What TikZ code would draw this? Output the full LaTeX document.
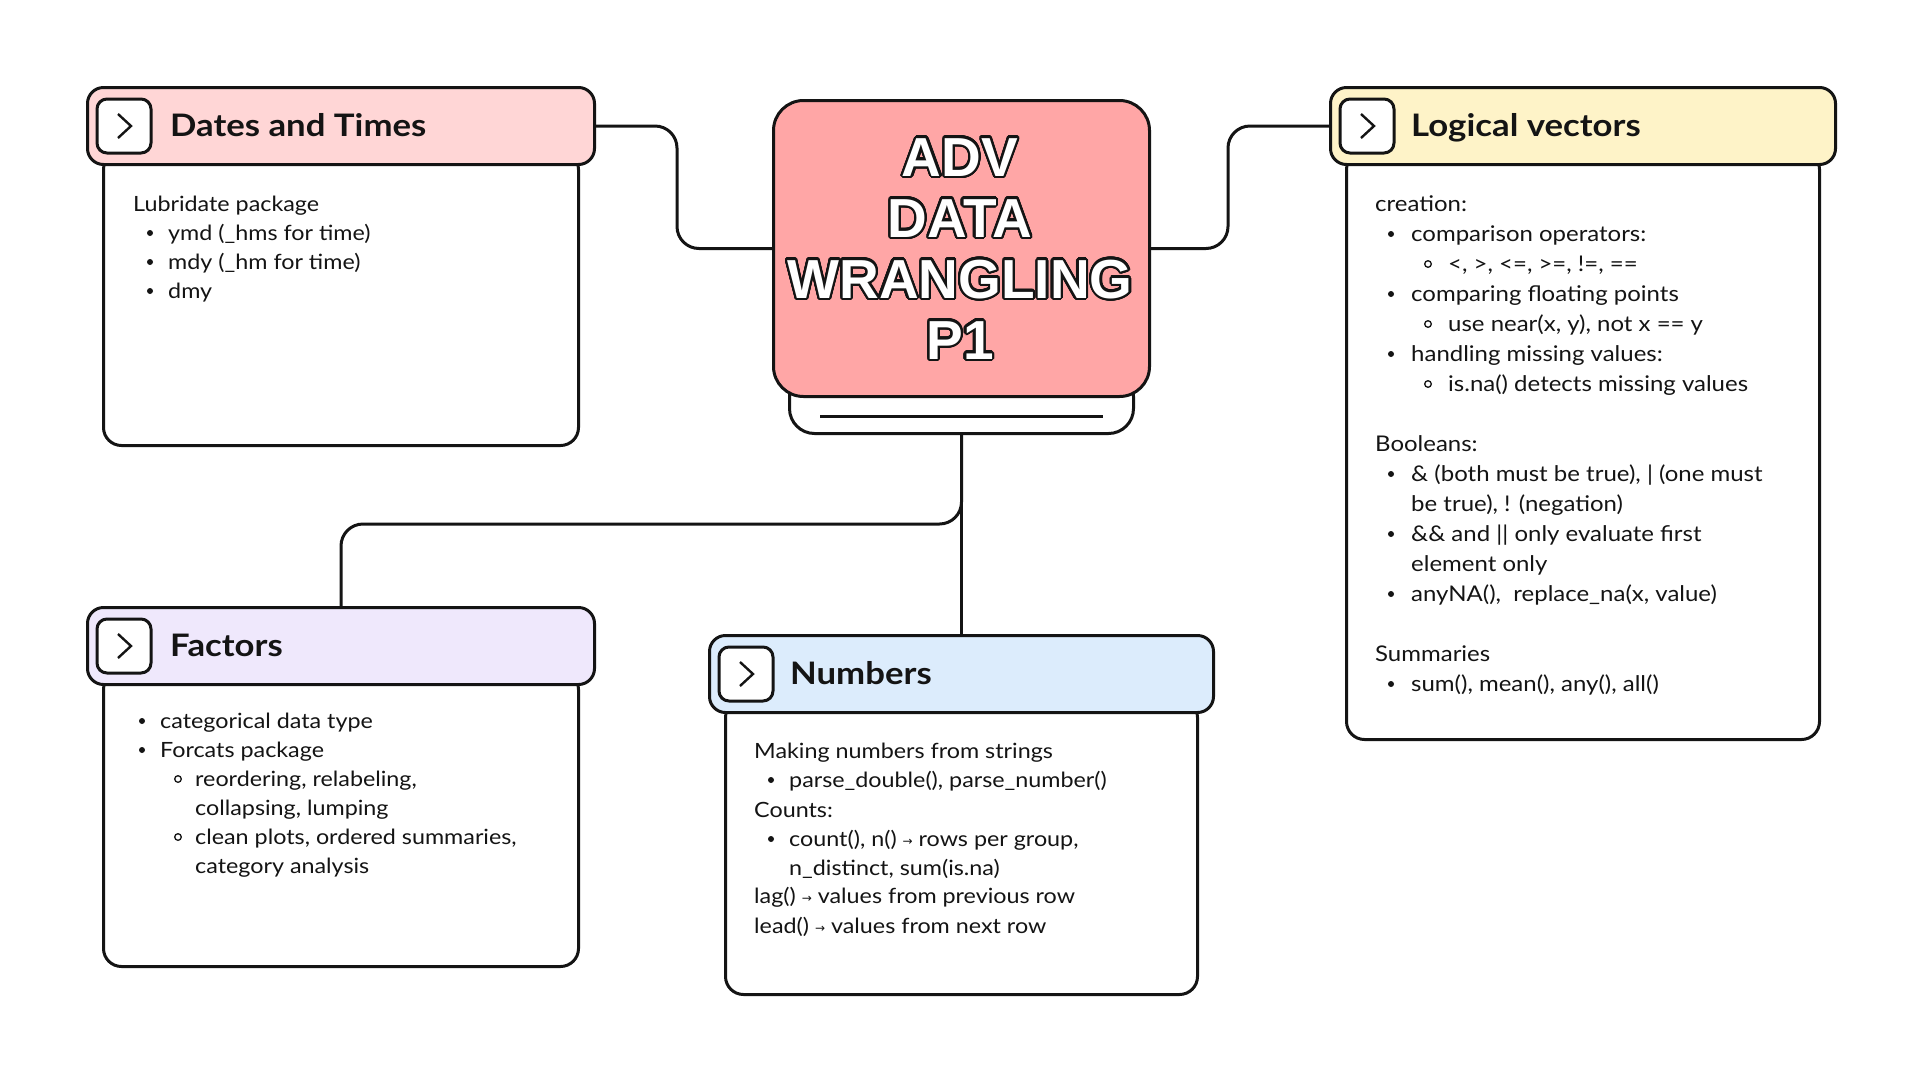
\documentclass[tikz,border=0pt]{standalone}
\usepackage{fontspec}
\setmainfont{Lato}[FakeStretch=1.11]
\newfontfamily\ttlfont{Lato}[FakeStretch=1.12]
\newfontfamily\heavyf{Liberation Sans}
\newfontfamily\symf{DejaVu Sans}
\usepackage{contour}
\contourlength{2.2pt}
\contournumber{32}
\usetikzlibrary{calc}
\definecolor{ink}{RGB}{20,20,20}
\definecolor{corepink}{RGB}{255,166,166}
\definecolor{hpink}{RGB}{255,214,214}
\definecolor{hyellow}{RGB}{254,243,200}
\definecolor{hlav}{RGB}{239,232,252}
\definecolor{hblue}{RGB}{220,236,252}
\newcommand\smallarrow{{\symf\fontsize{12}{12}\selectfont\raisebox{1pt}{→}}}
\begin{document}
\begin{tikzpicture}[x=1pt,y=-1pt,
  hdr/.style={draw=ink, line width=3pt, rounded corners=16pt, minimum height=77pt, inner sep=0pt, anchor=north west},
  bodybox/.style={draw=ink, line width=3pt, fill=white, rounded corners=18pt, inner sep=0pt, anchor=north west},
  icon/.style={draw=ink, line width=3pt, fill=white, rounded corners=10pt, minimum width=54pt, minimum height=54pt, inner sep=0pt},
  chev/.style={draw=ink, line width=2.4pt, line join=miter},
  ttl/.style={anchor=base west, inner sep=0pt, font=\ttlfont\fontsize{31}{31}\selectfont\bfseries, text=ink},
  txt/.style={anchor=base west, inner sep=0pt, font=\fontsize{21}{21}\selectfont, text=ink},
  ltxt/.style={txt, font=\fontsize{21.6}{21.6}\selectfont},
  ctr/.style={anchor=base, inner sep=0pt, font=\heavyf\bfseries\fontsize{55}{55}\selectfont, text=white},
  conn/.style={draw=ink, line width=3pt, rounded corners=22pt},
  dot/.style={fill=ink},
  ring/.style={draw=ink, line width=1.3pt}]
\path[use as bounding box, fill=white] (0,0) rectangle (1920,1080);

% ---------- centre ----------
\node[draw=ink, line width=3pt, fill=white, rounded corners=25pt, minimum width=344pt, minimum height=62pt, inner sep=0pt, anchor=north west] (base) at (788,370) {};
\node[draw=ink, line width=3pt, fill=corepink, rounded corners=30pt, minimum width=376pt, minimum height=296pt, inner sep=0pt, anchor=north west] (core) at (772,99) {};
\draw[ink, line width=3pt] ($(base.south west)+(32,-19)$) -- ($(base.south east)+(-32,-19)$);
\node[ctr] (t1) at (960,176) {\contour{ink}{ADV}};
\node[ctr] (t2) at (960,237) {\contour{ink}{DATA}};
\node[ctr] (t3) at (960,298) {\contour{ink}{WRANGLING}};
\node[ctr] (t4) at (960,359) {\contour{ink}{P1}};

% ---------- Dates and Times ----------
\node[bodybox, minimum width=475pt, minimum height=294pt] (db) at (102,150) {};
\node[hdr, fill=hpink, minimum width=507pt] (dh) at (86,86) {};
\node[icon] (di) at ($(dh.west)+(38,0)$) {};
\draw[chev] ($(di.center)+(-6,-12)$) -- ++(13,12) -- ++(-13,12);
\node[ttl] (dt) at ($(dh.west)+(84,10)$) {Dates and Times};
\node[txt] (d0) at (133,211) {Lubridate package};
\fill[dot] (150,233) circle[radius=3pt];
\node[txt] (d1) at (168,240) {ymd (\_hms for time)};
\fill[dot] (150,262) circle[radius=3pt];
\node[txt] (d2) at (168,269) {mdy (\_hm for time)};
\fill[dot] (150,291) circle[radius=3pt];
\node[txt] (d3) at (168,298) {dmy};

% ---------- Logical vectors ----------
\node[bodybox, minimum width=473pt, minimum height=588pt] (lb) at (1345,150) {};
\node[hdr, fill=hyellow, minimum width=505pt] (lh) at (1329,86) {};
\node[icon] (li) at ($(lh.west)+(38,0)$) {};
\draw[chev] ($(li.center)+(-6,-12)$) -- ++(13,12) -- ++(-13,12);
\node[ttl] (lt) at ($(lh.west)+(82,10)$) {Logical vectors};
\node[ltxt] (l0) at (1375,211) {creation:};
\fill[dot] (1391,234) circle[radius=3pt];
\node[ltxt] (l1) at (1411,241) {comparison operators:};
\draw[ring] (1428,264) circle[radius=3.3pt];
\node[ltxt] (l2) at (1448,271) {<, >, <=, >=, !=, ==};
\fill[dot] (1391,294) circle[radius=3pt];
\node[ltxt] (l3) at (1411,301) {comparing floating points};
\draw[ring] (1428,324) circle[radius=3.3pt];
\node[ltxt] (l4) at (1448,331) {use near(x, y), not x == y};
\fill[dot] (1391,354) circle[radius=3pt];
\node[ltxt] (l5) at (1411,361) {handling missing values:};
\draw[ring] (1428,384) circle[radius=3.3pt];
\node[ltxt] (l6) at (1448,391) {is.na() detects missing values};
\node[ltxt] (l7) at (1375,451) {Booleans:};
\fill[dot] (1391,474) circle[radius=3pt];
\node[ltxt] (l8) at (1411,481) {\& (both must be true), | (one must};
\node[ltxt] (l9) at (1411,511) {be true), ! (negation)};
\fill[dot] (1391,534) circle[radius=3pt];
\node[ltxt] (l10) at (1411,541) {\&\& and || only evaluate first};
\node[ltxt] (l11) at (1411,571) {element only};
\fill[dot] (1391,594) circle[radius=3pt];
\node[ltxt] (l12) at (1411,601) {anyNA(),\ \ replace\_na(x, value)};
\node[ltxt] (l13) at (1375,661) {Summaries};
\fill[dot] (1391,684) circle[radius=3pt];
\node[ltxt] (l14) at (1411,691) {sum(), mean(), any(), all()};

% ---------- Factors ----------
\node[bodybox, minimum width=475pt, minimum height=295pt] (fb) at (102,670) {};
\node[hdr, fill=hlav, minimum width=507pt] (fh) at (86,606) {};
\node[icon] (fi) at ($(fh.west)+(38,0)$) {};
\draw[chev] ($(fi.center)+(-6,-12)$) -- ++(13,12) -- ++(-13,12);
\node[ttl] (ft) at ($(fh.west)+(84,10)$) {Factors};
\fill[dot] (142,721) circle[radius=3pt];
\node[txt] (f1) at (160,728) {categorical data type};
\fill[dot] (142,750) circle[radius=3pt];
\node[txt] (f2) at (160,757) {Forcats package};
\draw[ring] (178,779) circle[radius=3.3pt];
\node[txt] (f3) at (195,786) {reordering, relabeling,};
\node[txt] (f4) at (195,815) {collapsing, lumping};
\draw[ring] (178,837) circle[radius=3.3pt];
\node[txt] (f5) at (195,844) {clean plots, ordered summaries,};
\node[txt] (f6) at (195,873) {category analysis};

% ---------- Numbers ----------
\node[bodybox, minimum width=472pt, minimum height=295pt] (nb) at (724,698) {};
\node[hdr, fill=hblue, minimum width=504pt] (nh) at (708,634) {};
\node[icon] (ni) at ($(nh.west)+(38,0)$) {};
\draw[chev] ($(ni.center)+(-6,-12)$) -- ++(13,12) -- ++(-13,12);
\node[ttl] (nt) at ($(nh.west)+(82,10)$) {Numbers};
\node[txt] (n0) at (754,758) {Making numbers from strings};
\fill[dot] (771,780) circle[radius=3pt];
\node[txt] (n1) at (789,787) {parse\_double(), parse\_number()};
\node[txt] (n2) at (754,817) {Counts:};
\fill[dot] (771,839) circle[radius=3pt];
\node[txt] (n3) at (789,846) {count(), n() \smallarrow{} rows per group,};
\node[txt] (n4) at (789,875) {n\_distinct, sum(is.na)};
\node[txt] (n5) at (754,903) {lag() \smallarrow{} values from previous row};
\node[txt] (n6) at (754,933) {lead() \smallarrow{} values from next row};

% ---------- connectors ----------
\coordinate (j1) at (677,0);
\coordinate (j2) at (1228,0);
\coordinate (j3) at (0,524);
\draw[conn] (dh.east) -- (j1 |- dh.east) -- (j1 |- core.west) -- (core.west);
\draw[conn] (core.east) -- (j2 |- core.east) -- (j2 |- lh.west) -- (lh.west);
\draw[conn] (base.south) -- (nh.north);
\draw[conn] (base.south) -- (base.south |- j3) -- (fh.north |- j3) -- (fh.north);
\end{tikzpicture}
\end{document}
